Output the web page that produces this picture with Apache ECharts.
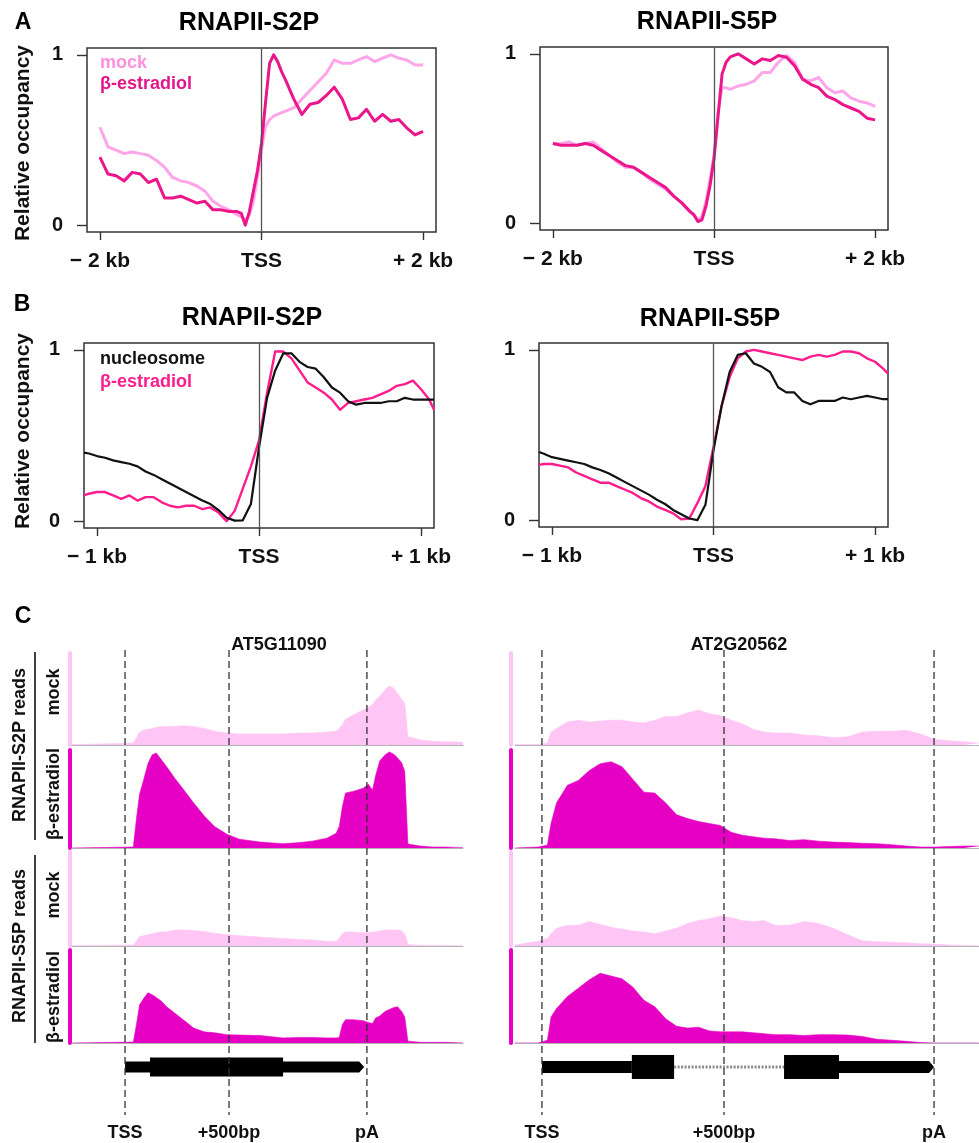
<!DOCTYPE html>
<html><head><meta charset="utf-8">
<script src="https://cdn.jsdelivr.net/npm/echarts@6/dist/echarts.min.js"></script>
<style>html,body{margin:0;padding:0;background:#fff}#c{width:979px;height:1143px}</style>
</head><body><div id="c"></div><script>
const FONT = "'Liberation Sans', Arial, Helvetica, sans-serif";

// ---------- Panel A : metagene profiles, positions in kb ----------
const posA = [-2.0,-1.9,-1.8,-1.7,-1.6,-1.5,-1.4,-1.3,-1.2,-1.1,-1.0,-0.9,-0.8,-0.7,-0.6,-0.5,-0.4,-0.3,
  -0.25,-0.2,-0.15,-0.1,-0.05,0,0.05,0.1,0.15,0.2,0.25,0.3,
  0.4,0.5,0.6,0.7,0.8,0.9,1.0,1.1,1.2,1.3,1.4,1.5,1.6,1.7,1.8,1.9,2.0];
const a1Mock = [.575,.46,.44,.42,.43,.42,.41,.38,.34,.28,.26,.25,.23,.20,.14,.11,.09,.06,
  .05,.03,.06,.14,.28,.44,.58,.62,.64,.65,.66,.67,
  .69,.74,.79,.84,.89,.97,.95,.95,.97,.99,.96,.98,1.0,.98,.97,.94,.94];
const a1Beta = [.40,.30,.29,.26,.31,.30,.25,.27,.16,.16,.17,.15,.13,.14,.09,.09,.08,.08,
  .07,.0,.08,.20,.32,.48,.72,.95,1.0,.96,.90,.85,
  .74,.65,.71,.72,.76,.81,.74,.62,.63,.68,.61,.65,.61,.62,.57,.53,.55];
const a2Mock = [.47,.47,.48,.46,.47,.48,.44,.40,.36,.33,.33,.30,.26,.23,.20,.16,.12,.07,
  .05,.02,.04,.13,.26,.40,.65,.80,.80,.79,.80,.81,
  .82,.84,.89,.89,.95,.99,.95,.85,.84,.86,.80,.77,.78,.74,.72,.71,.69];
const a2Beta = [.47,.46,.46,.46,.47,.46,.43,.40,.37,.34,.33,.30,.27,.24,.21,.16,.12,.07,
  .05,.01,.02,.10,.22,.38,.63,.88,.95,.98,.99,1.0,
  .97,.94,.97,.96,.99,.98,.93,.85,.82,.80,.75,.73,.70,.68,.66,.62,.61];
const tickKbA = [-2, 0, 2];
const tickLabA = ['\u2212 2 kb', 'TSS', '+ 2 kb'];

// ---------- Panel B : positions in kb ----------
const posB = [-1.08,-1.05,-1.0,-0.95,-0.9,-0.85,-0.8,-0.75,-0.7,-0.65,-0.6,-0.55,-0.5,-0.45,-0.4,-0.35,-0.3,-0.25,-0.2,-0.15,-0.1,-0.05,
  0,0.05,0.1,0.15,0.2,0.25,0.3,0.35,0.4,0.45,0.5,0.55,0.6,0.65,0.7,0.75,0.8,0.85,0.9,0.95,1.0,1.05,1.08];
const b1Nuc = [.40,.395,.38,.37,.355,.345,.335,.32,.29,.27,.245,.22,.195,.17,.145,.12,.10,.065,.02,.003,.005,.10,
  .43,.72,.88,.98,.98,.93,.90,.89,.84,.78,.75,.70,.68,.69,.69,.69,.70,.70,.72,.71,.71,.71,.71];
const b1Beta = [.15,.16,.17,.17,.15,.13,.15,.12,.14,.14,.11,.09,.08,.09,.09,.07,.08,.05,.0,.06,.19,.32,
  .47,.75,.99,.99,.95,.88,.81,.78,.75,.71,.65,.69,.70,.71,.72,.74,.76,.79,.80,.82,.77,.71,.65];
const b2Nuc = [.40,.39,.37,.36,.35,.34,.33,.31,.295,.275,.25,.225,.20,.175,.15,.12,.095,.06,.035,.01,.0,.09,
  .41,.67,.87,.97,.98,.92,.90,.87,.78,.75,.75,.70,.68,.70,.70,.70,.72,.71,.72,.73,.72,.71,.71];
const b2Beta = [.325,.33,.33,.32,.31,.28,.26,.24,.22,.22,.20,.18,.16,.13,.11,.08,.06,.04,.005,.01,.10,.20,
  .43,.67,.84,.95,.99,1.0,.99,.98,.97,.96,.95,.94,.96,.97,.96,.97,.99,.99,.98,.95,.93,.89,.86];
const tickKbB = [-1, 0, 1];
const tickLabB = ['\u2212 1 kb', 'TSS', '+ 1 kb'];
const tickY = [0, 1];
const tickLabY = ['0', '1'];

// ---------- Panel C : read coverage, positions in bp from TSS ----------
const posL = [-255,40,55,70,90,110,130,150,175,200,240,280,330,380,430,490,550,650,760,840,900,970,
  1015,1030,1045,1060,1100,1145,1170,1190,1205,1225,1250,1270,1290,1310,1330,1345,1360,1420,1480,1540,1625];
const s2MockL = [.005,.02,.08,.14,.16,.17,.18,.19,.2,.2,.2,.21,.2,.18,.15,.13,.12,.12,.12,.13,.13,.14,
  .15,.18,.22,.28,.33,.38,.41,.44,.49,.53,.60,.64,.62,.56,.50,.45,.09,.055,.04,.035,.03];
const s2BetaL = [.0,.01,.30,.55,.70,.86,.95,.97,.90,.83,.71,.60,.46,.33,.22,.14,.09,.06,.044,.055,.07,.10,
  .15,.22,.42,.56,.58,.61,.65,.59,.74,.89,.95,.98,.96,.92,.87,.78,.04,.02,.01,.01,.005];
const s5MockL = [.003,.01,.05,.10,.11,.12,.13,.14,.15,.15,.17,.17,.165,.155,.135,.12,.11,.095,.08,.07,.065,.05,
  .05,.08,.13,.15,.15,.14,.14,.15,.15,.16,.17,.17,.17,.17,.16,.13,.015,.007,.005,.005,.005];
const s5BetaL = [.0,.01,.20,.41,.48,.54,.52,.49,.45,.39,.32,.25,.16,.12,.11,.09,.085,.08,.055,.06,.06,.055,
  .055,.06,.20,.25,.25,.24,.22,.21,.27,.29,.34,.36,.38,.39,.34,.28,.02,.007,.007,.007,.0];

const posR = [-74,-10,15,25,40,70,100,130,160,190,220,250,280,310,340,370,400,430,460,490,
  520,550,580,610,640,680,720,760,800,840,880,920,960,1000,1040,1080,1120,1160,1200];
const s2MockR = [.005,.007,.02,.14,.18,.25,.27,.25,.26,.27,.27,.25,.24,.27,.31,.31,.35,.38,.34,.32,
  .27,.23,.17,.14,.13,.13,.11,.10,.08,.09,.14,.15,.15,.16,.12,.06,.045,.035,.02];
const s2BetaR = [.0,.01,.03,.25,.46,.64,.69,.79,.86,.88,.83,.70,.57,.56,.46,.34,.30,.27,.25,.23,
  .16,.13,.115,.10,.094,.077,.085,.07,.06,.055,.048,.044,.034,.02,.01,.01,.015,.02,.02];
const s5MockR = [.01,.05,.08,.13,.19,.22,.22,.26,.23,.20,.18,.16,.15,.13,.16,.19,.24,.27,.29,.32,
  .30,.27,.26,.27,.22,.22,.26,.24,.19,.12,.055,.045,.04,.035,.025,.02,.01,.005,.003];
const s5BetaR = [.0,.0,.03,.28,.37,.50,.59,.68,.75,.72,.69,.60,.46,.39,.26,.18,.16,.17,.13,.12,
  .12,.12,.11,.10,.09,.09,.08,.09,.09,.085,.07,.04,.03,.018,.005,.0,.0,.0,.0];

const markBpL = [0, 500, 1163];
const markBpR = [0, 500, 1077];
const markLab = ['TSS', '+500bp', 'pA'];
const geneLStart = [0, 120];
const geneLEnd = [1150, 760];
const geneLKind = ['utr', 'cds'];
const geneRStart = [0, 247, 363, 665, 816];
const geneREnd = [247, 363, 665, 816, 1077];
const geneRKind = ['utr', 'cds', 'intron', 'cds', 'utr'];

// ---------- build ----------
const zip = (xs, ys) => xs.map((x, i) => [x, ys[i]]);
const idx = (arr, v) => arr.findIndex(t => Math.abs(t - v) < 1e-6);
const grids = [], xAxes = [], yAxes = [], series = [], graphics = [];

const profPanels = [
  {grid:{left:87, top:48, width:349, height:184}, xr:2.16, ticks:tickKbA, labs:tickLabA, pos:posA,
   lines:[{y:a1Mock, color:'#ffa6ea', w:3}, {y:a1Beta, color:'#ec168c', w:3}]},
  {grid:{left:540, top:47, width:348, height:183}, xr:2.16, ticks:tickKbA, labs:tickLabA, pos:posA,
   lines:[{y:a2Mock, color:'#ffa6ea', w:3}, {y:a2Beta, color:'#ec168c', w:3}]},
  {grid:{left:84, top:343, width:350, height:185}, xr:1.08, ticks:tickKbB, labs:tickLabB, pos:posB,
   lines:[{y:b1Beta, color:'#ff1d8e', w:2.4}, {y:b1Nuc, color:'#111111', w:2.2}]},
  {grid:{left:539, top:343, width:349, height:184}, xr:1.08, ticks:tickKbB, labs:tickLabB, pos:posB,
   lines:[{y:b2Beta, color:'#ff1d8e', w:2.4}, {y:b2Nuc, color:'#111111', w:2.2}]}
];

profPanels.forEach((p) => {
  const gi = grids.length;
  grids.push(Object.assign({show:true, borderColor:'#333', borderWidth:1.5, backgroundColor:'transparent'}, p.grid));
  xAxes.push({gridIndex:gi, type:'value', position:'bottom', min:-p.xr, max:p.xr, axisLine:{show:false, onZero:false}, splitLine:{show:false},
    axisTick:{show:true, inside:false, length:8, customValues:p.ticks, lineStyle:{color:'#333', width:1.4}},
    axisLabel:{customValues:p.ticks, formatter:v => p.labs[idx(p.ticks, v)], margin:19,
      fontFamily:FONT, fontSize:21, fontWeight:'bold', color:'#111'}});
  yAxes.push({gridIndex:gi, type:'value', position:'left', min:-0.04, max:1.04, axisLine:{show:false, onZero:false}, splitLine:{show:false},
    axisTick:{show:true, inside:false, length:10, customValues:tickY, lineStyle:{color:'#333', width:1.4}},
    axisLabel:{customValues:tickY, formatter:v => tickLabY[idx(tickY, v)], margin:24,
      fontFamily:FONT, fontSize:20, fontWeight:'bold', color:'#111'}});
  p.lines.forEach((s, j) => {
    const ser = {type:'line', xAxisIndex:gi, yAxisIndex:gi, data:zip(p.pos, s.y), symbol:'none',
      lineStyle:{color:s.color, width:s.w, join:'round'}, z:3 + j, animation:false, silent:true};
    if (j === 0) ser.markLine = {silent:true, symbol:'none', label:{show:false}, animation:false,
      lineStyle:{color:'#555', width:1.3, type:'solid'}, data:[{xAxis:0}]};
    series.push(ser);
  });
});

const trackTops = [653, 750, 852, 950];
const trackHeights = [92, 98, 94, 93];
const trackColors = ['#ffc6f5', '#e600c3', '#ffc6f5', '#e600c3'];

function dashRender(params, api) {
  const x = api.coord([api.value(0), 0])[0];
  const cs = params.coordSys;
  return {type:'line', shape:{x1:x, y1:cs.y, x2:x, y2:cs.y + cs.height},
    style:{stroke:'#333', lineWidth:1.3, lineDash:[7, 4]}};
}
function geneRender(kinds, thinH, thickH, lastEnd) {
  return function (params, api) {
    const s = api.value(0), e = api.value(1), k = kinds[params.dataIndex];
    const a = api.coord([s, 0]), b = api.coord([e, 0]);
    const y = a[1];
    if (k === 'intron') return {type:'line', shape:{x1:a[0], y1:y, x2:b[0], y2:y},
      style:{stroke:'#8a8a8a', lineWidth:3, lineDash:[2, 1.5]}};
    const h = k === 'cds' ? thickH : thinH;
    if (k === 'utr' && e === lastEnd) {
      const tip = 5;
      return {type:'polygon', shape:{points:[[a[0], y - h / 2], [b[0] - tip, y - h / 2], [b[0], y], [b[0] - tip, y + h / 2], [a[0], y + h / 2]]},
        style:{fill:'#000'}};
    }
    return {type:'rect', shape:{x:a[0], y:y - h / 2, width:b[0] - a[0], height:h}, style:{fill:'#000'}};
  };
}

const genes = [
  {left:72, width:391, min:-255, max:1625, pos:posL, tracks:[s2MockL, s2BetaL, s5MockL, s5BetaL], marks:markBpL,
   barOffset:2, starts:geneLStart, ends:geneLEnd, kinds:geneLKind, thin:11, thick:19, title:'AT5G11090', titleX:279},
  {left:515, width:464, min:-74, max:1200.5, pos:posR, tracks:[s2MockR, s2BetaR, s5MockR, s5BetaR], marks:markBpR,
   barOffset:4, starts:geneRStart, ends:geneREnd, kinds:geneRKind, thin:12, thick:24, title:'AT2G20562', titleX:739}
];

genes.forEach((g) => {
  g.tracks.forEach((vals, ti) => {
    const k = grids.length;
    grids.push({left:g.left, width:g.width, top:trackTops[ti], height:trackHeights[ti]});
    xAxes.push({gridIndex:k, type:'value', min:g.min, max:g.max,
      axisLine:{show:true, onZero:false, lineStyle:{color:'#b4b4b4', width:1.2}},
      axisTick:{show:false}, axisLabel:{show:false}, splitLine:{show:false}});
    yAxes.push({gridIndex:k, type:'value', min:0, max:1, offset:g.barOffset,
      axisLine:{show:true, onZero:false, lineStyle:{color:trackColors[ti], width:4}},
      axisTick:{show:false}, axisLabel:{show:false}, splitLine:{show:false}});
    series.push({type:'line', xAxisIndex:k, yAxisIndex:k, data:zip(g.pos, vals), symbol:'none',
      lineStyle:{width:0.6, color:trackColors[ti]}, areaStyle:{color:trackColors[ti], opacity:1},
      z:2, animation:false, silent:true});
  });
  // gene model
  const gm = grids.length;
  grids.push({left:g.left, width:g.width, top:1055, height:24});
  xAxes.push({gridIndex:gm, type:'value', min:g.min, max:g.max, show:false});
  yAxes.push({gridIndex:gm, type:'value', min:-1, max:1, show:false});
  const lastEnd = Math.max.apply(null, g.ends);
  series.push({type:'custom', xAxisIndex:gm, yAxisIndex:gm, data:g.starts.map((s, i) => [s, g.ends[i]]),
    encode:{x:[0, 1]}, renderItem:geneRender(g.kinds, g.thin, g.thick, lastEnd), z:5, animation:false, silent:true});
  // frame with dashed marks + labels
  const fi = grids.length;
  grids.push({left:g.left, width:g.width, top:650, height:465});
  xAxes.push({gridIndex:fi, type:'value', min:g.min, max:g.max, axisLine:{show:false, onZero:false}, axisTick:{show:false}, splitLine:{show:false},
    axisLabel:{customValues:g.marks, formatter:v => markLab[idx(g.marks, v)], margin:9,
      fontFamily:FONT, fontSize:18, fontWeight:'bold', color:'#111'}});
  yAxes.push({gridIndex:fi, type:'value', min:0, max:1, show:false});
  series.push({type:'custom', xAxisIndex:fi, yAxisIndex:fi, data:g.marks.map(v => [v, 0]), encode:{x:0, y:1},
    renderItem:dashRender, z:20, animation:false, silent:true});
});

// ---------- texts ----------
function txt(x, y, text, size, color, opt) {
  opt = opt || {};
  graphics.push({type:'text', x:x, y:y, rotation:opt.rot || 0, z:100, silent:true,
    style:{text:text, fontFamily:FONT, fontSize:size, fontWeight:opt.weight || 'bold', fill:color,
      align:opt.align || 'center', verticalAlign:'middle'}});
}
const R90 = Math.PI / 2;
txt(23, 23, 'A', 23, '#000');
txt(22, 305, 'B', 23, '#000');
txt(23, 617, 'C', 23, '#000');
txt(249, 23, 'RNAPII-S2P', 25, '#000');
txt(707, 22, 'RNAPII-S5P', 25, '#000');
txt(252, 318, 'RNAPII-S2P', 25, '#000');
txt(710, 319, 'RNAPII-S5P', 25, '#000');
txt(23, 143, 'Relative occupancy', 21, '#111', {rot:R90});
txt(23, 431, 'Relative occupancy', 21, '#111', {rot:R90});
txt(100, 63, 'mock', 18, '#ff8fdf', {align:'left'});
txt(100, 84, '\u03b2-estradiol', 18, '#e2168a', {align:'left'});
txt(100, 359, 'nucleosome', 18, '#111', {align:'left'});
txt(100, 382, '\u03b2-estradiol', 18, '#ff1d8e', {align:'left'});
txt(genes[0].titleX, 645, genes[0].title, 18, '#111');
txt(genes[1].titleX, 645, genes[1].title, 18, '#111');
txt(20, 745, 'RNAPII-S2P reads', 18, '#111', {rot:R90});
txt(20, 946, 'RNAPII-S5P reads', 18, '#111', {rot:R90});
txt(54, 692, 'mock', 18, '#111', {rot:R90});
txt(54, 794, '\u03b2-estradiol', 18, '#111', {rot:R90});
txt(54, 895, 'mock', 18, '#111', {rot:R90});
txt(54, 997, '\u03b2-estradiol', 18, '#111', {rot:R90});
graphics.push({type:'line', shape:{x1:35, y1:652, x2:35, y2:840}, style:{stroke:'#111', lineWidth:1.6}, silent:true});
graphics.push({type:'line', shape:{x1:35, y1:855, x2:35, y2:1043}, style:{stroke:'#111', lineWidth:1.6}, silent:true});

const chart = echarts.init(document.getElementById('c'), null, {renderer:'canvas'});
chart.setOption({
  animation:false,
  backgroundColor:'#ffffff',
  grid:grids, xAxis:xAxes, yAxis:yAxes, series:series, graphic:graphics
});
</script></body></html>
